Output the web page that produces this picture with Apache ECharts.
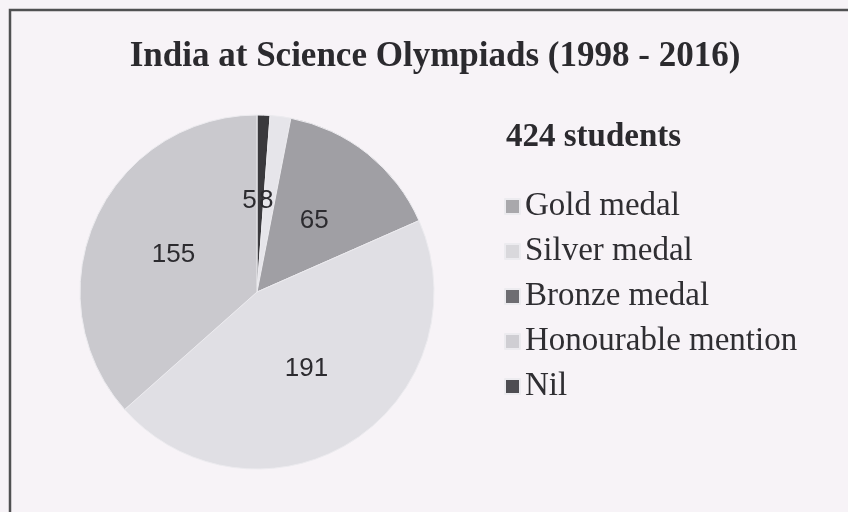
<!DOCTYPE html>
<html>
<head>
<meta charset="utf-8">
<script src="https://cdn.jsdelivr.net/npm/echarts@6/dist/echarts.min.js"></script>
<style>
  html, body { margin: 0; padding: 0; background: #f7f3f7; }
  #chart { width: 848px; height: 512px; }
</style>
</head>
<body>
<div id="chart"></div>
<script>
const categories = ['Gold medal', 'Silver medal', 'Bronze medal', 'Honourable mention', 'Nil'];
const counts = [5, 8, 65, 191, 155];
const sliceColors = ['#3a393d', '#e6e5ea', '#a09fa4', '#e0dfe4', '#cac9ce'];
const legendColors = ['#a9a8ac', '#d9d8dc', '#6e6d72', '#cfced3', '#4e4d52'];
const labelShift = [[-11, 0], [-3, 0], [0, 0], [0, 0], [0, 0]];

const chart = echarts.init(document.getElementById('chart'));

const option = {
  backgroundColor: '#f7f3f7',
  animation: false,
  title: [{
    text: 'India at Science Olympiads (1998 - 2016)',
    left: 430,
    textAlign: 'center',
    top: 34,
    textStyle: { fontFamily: 'Liberation Serif', fontWeight: 'bold', fontSize: 35, color: '#2b2a2e' }
  }, {
    text: '424 students',
    left: 501,
    top: 116,
    textStyle: { fontFamily: 'Liberation Serif', fontWeight: 'bold', fontSize: 33, color: '#2b2a2e' }
  }],
  graphic: [{
    type: 'rect',
    shape: { x: 10, y: 10, width: 860, height: 540 },
    style: { fill: 'none', stroke: '#505052', lineWidth: 2.5 },
    silent: true
  }],
  legend: {
    orient: 'vertical',
    left: 499,
    top: 185,
    icon: 'rect',
    itemWidth: 15,
    itemHeight: 15,
    itemGap: 12,
    textStyle: { fontFamily: 'Liberation Serif', fontSize: 33, lineHeight: 33, color: '#2f2e32', padding: [0, 0, 0, 0] },
    data: categories.map((name, i) => ({ name, itemStyle: { color: legendColors[i] } }))
  },
  series: [{
    type: 'pie',
    center: [257, 292],
    radius: 177,
    startAngle: 90,
    clockwise: true,
    avoidLabelOverlap: false,
    label: {
      show: true,
      position: 'inside',
      formatter: '{c}',
      fontFamily: 'Liberation Sans',
      fontSize: 26,
      color: '#2c2b2f'
    },
    labelLine: { show: false },
    itemStyle: { borderColor: '#ecebef', borderWidth: 1 },
    emphasis: { disabled: true },
    data: categories.map((name, i) => ({
      name,
      value: counts[i],
      itemStyle: { color: sliceColors[i] },
      label: { offset: labelShift[i] }
    }))
  }]
};

chart.setOption(option);
</script>
</body>
</html>
